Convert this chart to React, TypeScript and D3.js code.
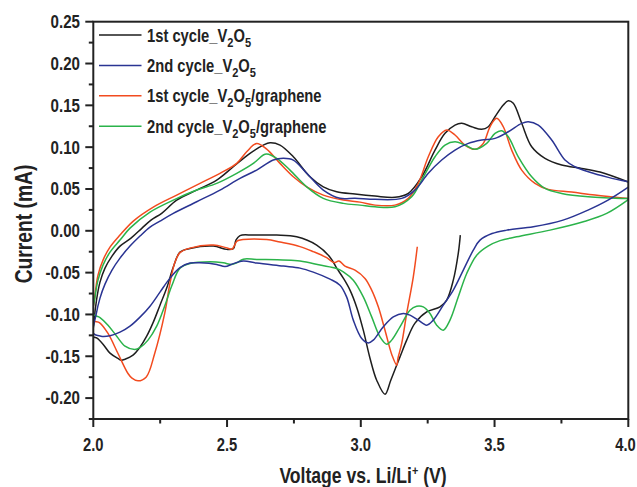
import React from 'react';
import * as d3 from 'd3';

// ---------- data (Voltage V, Current mA) ----------
const X_MAJOR = [2.0, 2.5, 3.0, 3.5, 4.0];
const X_MINOR = [2.25, 2.75, 3.25, 3.75];
const Y_MAJOR = [-0.2, -0.15, -0.1, -0.05, 0.0, 0.05, 0.1, 0.15, 0.2, 0.25];
const Y_MINOR = [-0.225, -0.175, -0.125, -0.075, -0.025, 0.025, 0.075, 0.125, 0.175, 0.225];

const LEGEND_PREFIX = ['1st cycle_V', '2nd cycle_V', '1st cycle_V', '2nd cycle_V'];
const LEGEND_SUFFIX = ['', '', '/graphene', '/graphene'];
const COLORS = ['#1e1e1e', '#2a3493', '#f24b1f', '#2bb34a'];

const cycle1V2O5: [number, number][] = [
  [3.372, -0.0051], [3.3645, -0.0267], [3.3458, -0.059], [3.3211, -0.0829], [3.2961, -0.0909],
  [3.2464, -0.0969], [3.2026, -0.1104], [3.1716, -0.1307], [3.1465, -0.1507], [3.1121, -0.1786],
  [3.0905, -0.1953], [3.0594, -0.1786], [3.0344, -0.1523], [3.0093, -0.1188], [2.9858, -0.0925],
  [2.9596, -0.0709], [2.9346, -0.0566], [2.9099, -0.0446], [2.8849, -0.0315], [2.8351, -0.0171],
  [2.7604, -0.0072], [2.6856, -0.0051], [2.5981, -0.0051], [2.5484, -0.0057], [2.5335, -0.0111],
  [2.5234, -0.0213], [2.4987, -0.0222], [2.4486, -0.0183], [2.3615, -0.0211], [2.3241, -0.0255],
  [2.2991, -0.0434], [2.2744, -0.0685], [2.2493, -0.0889], [2.2243, -0.1092], [2.1996, -0.126],
  [2.1746, -0.1391], [2.1484, -0.1487], [2.1185, -0.1535], [2.1047, -0.1547], [2.0935, -0.1529],
  [2.0624, -0.1463], [2.0363, -0.1355], [2.0138, -0.1284], [2.0, -0.1265],
  [2.0026, -0.1092], [2.012, -0.0829], [2.025, -0.0614], [2.0437, -0.0446], [2.0699, -0.0303],
  [2.0998, -0.0183], [2.1409, -0.0087], [2.1821, 0.0032], [2.2157, 0.0128], [2.2568, 0.0212],
  [2.3118, 0.0367], [2.3865, 0.0487], [2.4613, 0.0606], [2.5234, 0.0766], [2.5858, 0.0926],
  [2.6355, 0.1025], [2.6606, 0.1053], [2.6979, 0.1025], [2.7477, 0.0885], [2.8101, 0.0646],
  [2.8598, 0.0526], [2.9099, 0.0467], [2.9783, 0.0439], [3.0531, 0.0415], [3.1278, 0.04],
  [3.1776, 0.0447], [3.2277, 0.0646], [3.2774, 0.0965], [3.3148, 0.1165], [3.3522, 0.1264],
  [3.3772, 0.1285], [3.4146, 0.1244], [3.4519, 0.1213], [3.4766, 0.1244], [3.5017, 0.1364],
  [3.5327, 0.1504], [3.5514, 0.1555], [3.5701, 0.1524], [3.6015, 0.1285], [3.6389, 0.1005],
  [3.6886, 0.0866], [3.751, 0.0786], [3.8258, 0.0746], [3.8942, 0.0702], [4.0, 0.0583],
];

const cycle2V2O5: [number, number][] = [
  [4.0, 0.0523], [3.9241, 0.0367], [3.8493, 0.0248], [3.7559, 0.0128], [3.6449, 0.0048],
  [3.5454, 0.0008], [3.4905, -0.0033], [3.4456, -0.0111], [3.4206, -0.0231], [3.3832, -0.047],
  [3.3458, -0.0709], [3.3084, -0.0889], [3.271, -0.1068], [3.2464, -0.1128], [3.2149, -0.1068],
  [3.1839, -0.1008], [3.1589, -0.0988], [3.1215, -0.1029], [3.0841, -0.1148], [3.0467, -0.1307],
  [3.028, -0.134], [3.0034, -0.1287], [2.972, -0.1068], [2.9473, -0.0793], [2.9222, -0.065],
  [2.8849, -0.0578], [2.8224, -0.0494], [2.7727, -0.0446], [2.7103, -0.0422], [2.6108, -0.0386],
  [2.5607, -0.0362], [2.5234, -0.0392], [2.4923, -0.0428], [2.4613, -0.0402], [2.3989, -0.0383],
  [2.3615, -0.0386], [2.3241, -0.044], [2.2867, -0.0566], [2.2493, -0.0733], [2.212, -0.0901],
  [2.1746, -0.1032], [2.1372, -0.114], [2.0998, -0.1212], [2.0624, -0.1254], [2.0288, -0.126],
  [2.0, -0.1224],
  [2.0101, -0.1008], [2.025, -0.0805], [2.0437, -0.0638], [2.0699, -0.047], [2.0998, -0.0327],
  [2.1372, -0.0183], [2.1746, -0.0063], [2.212, 0.0044], [2.2493, 0.0116], [2.2991, 0.0208],
  [2.3865, 0.0347], [2.4736, 0.0487], [2.5484, 0.0627], [2.6108, 0.0726], [2.6729, 0.0846],
  [2.7103, 0.0866], [2.7477, 0.0846], [2.7978, 0.0687], [2.8598, 0.0487], [2.9222, 0.0388],
  [2.9783, 0.0388], [3.0531, 0.0376], [3.1529, 0.0388], [3.2026, 0.0487], [3.2523, 0.0687],
  [3.3024, 0.0846], [3.3522, 0.0965], [3.4019, 0.1045], [3.4519, 0.1085], [3.5017, 0.1105],
  [3.5514, 0.1184], [3.6015, 0.1285], [3.6262, 0.1304], [3.6635, 0.1264], [3.7136, 0.1085],
  [3.7633, 0.0846], [3.8007, 0.0766], [3.8505, 0.0706], [3.9252, 0.0639], [4.0, 0.0586],
];

const cycle1Graphene: [number, number][] = [
  [3.2112, -0.0191], [3.1963, -0.055], [3.1716, -0.0988], [3.1529, -0.1347], [3.139, -0.1523],
  [3.1342, -0.1607], [3.1166, -0.1487], [3.0905, -0.1188], [3.0654, -0.0909], [3.0407, -0.0709],
  [3.0157, -0.0569], [2.9783, -0.047], [2.9409, -0.0422], [2.9185, -0.0362], [2.8998, -0.038],
  [2.8725, -0.0321], [2.8224, -0.0249], [2.7727, -0.0189], [2.6979, -0.0135], [2.6482, -0.0105],
  [2.5596, -0.0105], [2.5372, -0.0123], [2.5185, -0.0219], [2.4961, -0.0201], [2.4486, -0.0171],
  [2.3615, -0.0207], [2.3241, -0.0261], [2.3054, -0.0374], [2.2867, -0.0626], [2.2669, -0.0988],
  [2.2295, -0.1467], [2.1981, -0.1747], [2.1671, -0.1794], [2.1447, -0.1762], [2.1297, -0.1706],
  [2.0923, -0.1467], [2.055, -0.1227], [2.0239, -0.11], [2.0, -0.107],
  [2.0064, -0.0769], [2.0176, -0.053], [2.0363, -0.035], [2.0624, -0.0195], [2.0998, -0.0051],
  [2.1495, 0.0116], [2.2243, 0.0283], [2.3118, 0.0427], [2.3989, 0.0567], [2.4736, 0.0687],
  [2.5361, 0.0806], [2.5734, 0.0945], [2.6108, 0.1045], [2.6482, 0.0977], [2.6979, 0.0806],
  [2.7477, 0.0646], [2.7978, 0.0526], [2.8598, 0.0427], [2.9346, 0.0367], [2.997, 0.0343],
  [3.0531, 0.0307], [3.1278, 0.0307], [3.1776, 0.0388], [3.2149, 0.0567], [3.2523, 0.0885],
  [3.2897, 0.1124], [3.3211, 0.1205], [3.3522, 0.1145], [3.3895, 0.1025], [3.4269, 0.0974],
  [3.4579, 0.1045], [3.483, 0.1244], [3.508, 0.1345], [3.5327, 0.1244], [3.5641, 0.0965],
  [3.6015, 0.0726], [3.6512, 0.0567], [3.7009, 0.0495], [3.7884, 0.0463], [3.8755, 0.0427],
  [4.0, 0.0385],
];

const cycle2Graphene: [number, number][] = [
  [4.0, 0.0373], [3.9192, 0.0208], [3.8318, 0.0108], [3.7073, 0.0008], [3.5828, -0.0072],
  [3.5204, -0.0117], [3.4755, -0.0183], [3.4333, -0.0291], [3.3959, -0.051], [3.3645, -0.0789],
  [3.3334, -0.1068], [3.3084, -0.1188], [3.2837, -0.1128], [3.2587, -0.0988], [3.2336, -0.0909],
  [3.2089, -0.0901], [3.1839, -0.0949], [3.1465, -0.1148], [3.1155, -0.1307], [3.0968, -0.1355],
  [3.0718, -0.1268], [3.0407, -0.1029], [3.0093, -0.0789], [2.972, -0.059], [2.9346, -0.049],
  [2.9099, -0.045], [2.8475, -0.041], [2.7727, -0.0362], [2.6108, -0.0342], [2.5607, -0.0339],
  [2.5361, -0.0383], [2.5174, -0.0402], [2.486, -0.0383], [2.4363, -0.0371], [2.3615, -0.039],
  [2.3241, -0.0446], [2.2942, -0.065], [2.268, -0.0889], [2.237, -0.114], [2.2045, -0.1307],
  [2.1746, -0.1397], [2.1548, -0.1419], [2.1185, -0.1379], [2.0875, -0.126], [2.055, -0.1128],
  [2.025, -0.1038], [2.0, -0.0996],
  [2.0064, -0.0793], [2.0176, -0.059], [2.0363, -0.041], [2.0624, -0.0255], [2.0998, -0.0111],
  [2.1372, 0.0032], [2.212, 0.0224], [2.2991, 0.0367], [2.3865, 0.0487], [2.4613, 0.0567],
  [2.5361, 0.0687], [2.5981, 0.0806], [2.6355, 0.0906], [2.6482, 0.0917], [2.6856, 0.0866],
  [2.7353, 0.0726], [2.7978, 0.0526], [2.8598, 0.0388], [2.9346, 0.0328], [2.997, 0.0307],
  [3.0531, 0.0287], [3.1278, 0.0287], [3.1903, 0.0407], [3.2277, 0.0606], [3.2774, 0.0885],
  [3.3148, 0.1025], [3.3522, 0.1065], [3.3895, 0.1025], [3.4269, 0.0974], [3.4706, 0.1045],
  [3.5017, 0.1165], [3.5267, 0.1196], [3.5514, 0.1124], [3.5888, 0.0885], [3.6389, 0.0646],
  [3.6886, 0.0507], [3.751, 0.0447], [3.8505, 0.0407], [4.0, 0.0385],
];

const SERIES = [cycle1V2O5, cycle2V2O5, cycle1Graphene, cycle2Graphene];
const DRAW_ORDER = [0, 2, 3, 1];

// ---------- layout ----------
const W = 637;
const H = 487;
const FONT = "'Liberation Sans', Arial, sans-serif";
const INK = '#222';

type NTextProps = {
  x: number;
  y: number;
  size: number;
  sx?: number;
  anchor?: 'start' | 'middle' | 'end';
  rotate?: number;
  children: React.ReactNode;
};

// bold text condensed horizontally to imitate a narrow bold face
function NText({ x, y, size, sx = 0.82, anchor = 'start', rotate, children }: NTextProps) {
  const t = `translate(${x},${y})${rotate ? ` rotate(${rotate})` : ''} scale(${sx},1)`;
  return (
    <text transform={t} textAnchor={anchor} fontSize={size} fontWeight="bold" fill={INK} fontFamily={FONT}>
      {children}
    </text>
  );
}

export default function App() {
  const x = d3.scaleLinear().domain([2, 4]).range([93.3, 628.3]);
  const y = d3.scaleLinear().domain([-0.225, 0.25]).range([419, 21.7]);
  const line = d3
    .line<[number, number]>()
    .x((d) => x(d[0]))
    .y((d) => y(d[1]))
    .curve(d3.curveCatmullRom.alpha(0.5));

  const [x0, x1] = x.range();
  const [yb, yt] = y.range();

  return (
    <svg
      width={W}
      height={H}
      viewBox={`0 0 ${W} ${H}`}
      style={{ position: 'absolute', left: 0, top: 0, background: '#fff' }}
    >
      <rect x={0} y={0} width={W} height={H} fill="#fff" />
      <defs>
        <clipPath id="plot">
          <rect x={x0} y={yt} width={x1 - x0} height={yb - yt} />
        </clipPath>
      </defs>

      {/* data */}
      <g clipPath="url(#plot)">
        {DRAW_ORDER.map((i) => (
          <path
            key={i}
            d={line(SERIES[i]) || ''}
            fill="none"
            stroke={COLORS[i]}
            strokeWidth={1.5}
            strokeLinejoin="round"
          />
        ))}
      </g>

      {/* frame */}
      <rect x={x0} y={yt} width={x1 - x0} height={yb - yt} fill="none" stroke={INK} strokeWidth={2} />

      {/* x ticks */}
      {X_MAJOR.map((v) => (
        <g key={'xm' + v}>
          <line x1={x(v)} x2={x(v)} y1={yb} y2={yb + 8} stroke={INK} strokeWidth={2} />
          <NText x={Math.min(x(v), 625.5)} y={451} size={18} sx={0.82} anchor="middle">
            {v.toFixed(1)}
          </NText>
        </g>
      ))}
      {X_MINOR.map((v) => (
        <line key={'xn' + v} x1={x(v)} x2={x(v)} y1={yb} y2={yb + 4.5} stroke={INK} strokeWidth={2} />
      ))}

      {/* y ticks */}
      {Y_MAJOR.map((v) => (
        <g key={'ym' + v}>
          <line x1={x0 - 8} x2={x0} y1={y(v)} y2={y(v)} stroke={INK} strokeWidth={2} />
          <NText x={80} y={y(v) + 6.4} size={18} sx={0.84} anchor="end">
            {v.toFixed(2)}
          </NText>
        </g>
      ))}
      {Y_MINOR.map((v) => (
        <line key={'yn' + v} x1={x0 - 4.5} x2={x0} y1={y(v)} y2={y(v)} stroke={INK} strokeWidth={2} />
      ))}

      {/* axis titles */}
      <NText x={363} y={483} size={22} sx={0.8} anchor="middle">
        Voltage vs. Li/Li<tspan dy={-8} fontSize={13.5}>+</tspan>
        <tspan dy={8}> (V)</tspan>
      </NText>
      <NText x={32} y={224} size={23.5} sx={0.82} anchor="middle" rotate={-90}>
        Current (mA)
      </NText>

      {/* legend */}
      {LEGEND_PREFIX.map((p, i) => {
        const ly = 35 + i * 30.4;
        return (
          <g key={'lg' + i}>
            <line x1={99} x2={141.5} y1={ly} y2={ly} stroke={COLORS[i]} strokeWidth={1.5} />
            <NText x={147} y={ly + 6.5} size={18}>
              {p}
              <tspan dy={5} fontSize={13.5}>2</tspan>
              <tspan dy={-5}>O</tspan>
              <tspan dy={5} fontSize={13.5}>5</tspan>
              <tspan dy={-5}>{LEGEND_SUFFIX[i]}</tspan>
            </NText>
          </g>
        );
      })}
    </svg>
  );
}
